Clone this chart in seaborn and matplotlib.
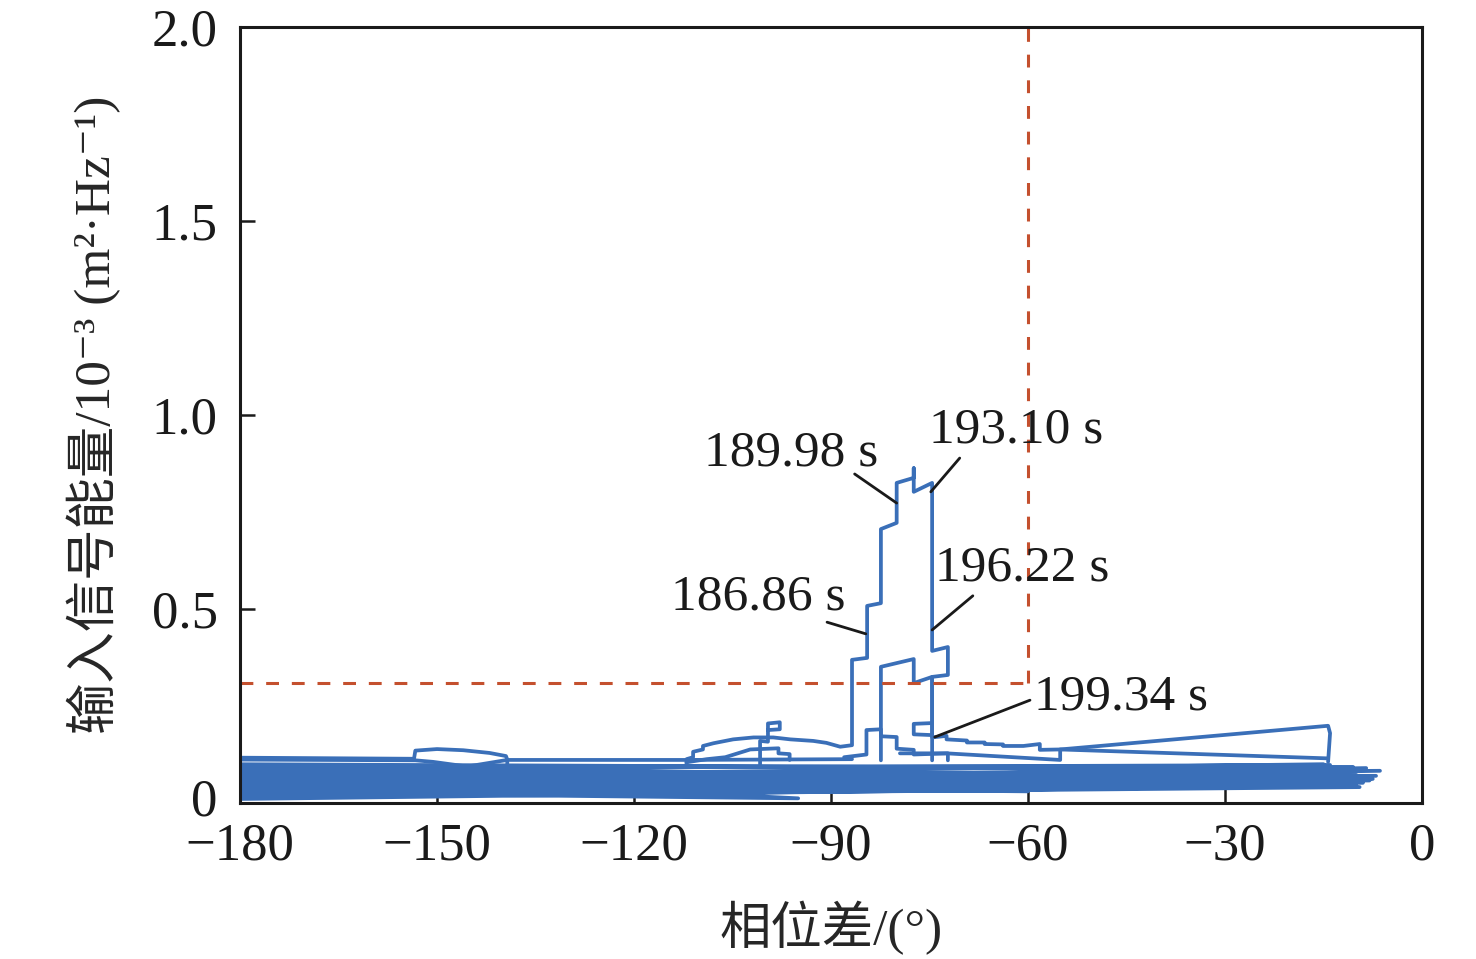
import numpy as np
import pandas as pd
import matplotlib
matplotlib.use("Agg")
import matplotlib.pyplot as plt
import matplotlib.transforms as mtransforms
import seaborn as sns

# Trajectory of (phase difference, input energy)
# dense oscillation band near the bottom
band_x = [-182, -10.5, -182, -6.4, -182, -7.5, -182, -9.5, -182, -12, -182, -8.5,
          -182, -11, -182, -7, -182, -14, -182, -9, -182, -16, -182, -10, -182, -13,
          -182, -8, -182, -11.5, -182, -9, -182, -15, -182, -10, -182, -60, -182, -95,
          -182, -18, -182]
band_y = [0.095, 0.093, 0.030, 0.083, 0.060, 0.062, 0.015, 0.041, 0.080, 0.075, 0.045, 0.090,
          0.020, 0.050, 0.070, 0.070, 0.035, 0.098, 0.088, 0.066, 0.025, 0.085, 0.055, 0.045, 0.010,
          0.078, 0.075, 0.058, 0.040, 0.088, 0.100, 0.052, 0.065, 0.100, 0.018, 0.072, 0.050, 0.030,
          0.085, 0.012, 0.028, 0.060, 0.092]

# upper lines and bump on the left
left_x = [-182, -153.5, -153.3, -150, -146, -142, -139.5, -139.3, -139.3]
left_y = [0.117, 0.114, 0.135, 0.139, 0.136, 0.129, 0.121, 0.112, 0.095]
left2_x = [-182, -153.3, -150.6, -145.4, -139.3, -112, -86.8]
left2_y = [0.112, 0.110, 0.106, 0.094, 0.111, 0.111, 0.113]

# rising bump and tall step-like excursion
peak_x = [-112.0, -112.0, -111.0, -111.0, -109.5, -109.5, -107.9, -104.9, -101.8, -98.8,
          -96.2, -92.7, -90.7, -88.6, -86.8, -86.8, -84.5, -84.5, -82.4, -82.4, -80.0, -80.0,
          -77.4, -77.4, -77.4, -74.6, -74.6, -72.2, -72.2, -74.6, -74.6, -72.4, -72.4, -69.3,
          -69.3, -66.6, -66.6, -63.8, -63.8, -60.7, -58.2, -58.2, -55.1, -14.3, -14.0, -14.3]
peak_y = [0.098, 0.113, 0.118, 0.132, 0.138, 0.147, 0.154, 0.164, 0.169, 0.169,
          0.164, 0.160, 0.155, 0.145, 0.149, 0.369, 0.374, 0.508, 0.515, 0.706, 0.722, 0.825,
          0.838, 0.863, 0.802, 0.825, 0.392, 0.402, 0.330, 0.325, 0.169, 0.173, 0.164, 0.161,
          0.156, 0.156, 0.152, 0.151, 0.147, 0.147, 0.152, 0.137, 0.138, 0.199, 0.180, 0.106]

inner_x = [-82.4, -82.4, -77.4, -77.4, -74.6, -74.6]
inner_y = [0.110, 0.351, 0.371, 0.309, 0.325, 0.110]
box_x = [-74.6, -77.4, -77.4, -74.6]
box_y = [0.175, 0.177, 0.204, 0.206]

bump2_x = [-112, -108.9, -106.1, -102.3, -98.0, -98.0, -96.3, -96.3]
bump2_y = [0.105, 0.113, 0.118, 0.138, 0.141, 0.128, 0.126, 0.111]
flag_x = [-100.8, -100.8, -99.6, -99.6, -97.8, -97.8, -99.6]
flag_y = [0.098, 0.160, 0.158, 0.205, 0.208, 0.190, 0.188]

steps_x = [-88, -84.6, -84.6, -82.4, -82.4, -80.0, -80.0, -77.4, -77.4, -72.2, -72.2]
steps_y = [0.118, 0.125, 0.188, 0.190, 0.172, 0.170, 0.140, 0.137, 0.125, 0.128, 0.110]
low_x = [-79.5, -72.4, -55.1, -55.1, -14.3]
low_y = [0.128, 0.128, 0.111, 0.138, 0.115]

# threshold lines
phase_limit = -60
energy_limit = 0.308

# annotations: label, text position, leader line start, leader line end
ann_labels = ["189.98 s", "193.10 s", "186.86 s", "196.22 s", "199.34 s"]
ann_text_x = [-96.1, -61.8, -101.1, -60.9, -45.8]
ann_text_y = [0.902, 0.961, 0.531, 0.606, 0.273]
ann_from_x = [-86.4, -70.4, -90.6, -68.4, -59.7]
ann_from_y = [0.848, 0.889, 0.466, 0.534, 0.265]
ann_to_x = [-80.0, -74.8, -84.7, -74.6, -74.2]
ann_to_y = [0.773, 0.802, 0.436, 0.446, 0.170]

x_ticks = [-180, -150, -120, -90, -60, -30, 0]
y_ticks = [0, 0.5, 1.0, 1.5, 2.0]
y_tick_labels = ["0", "0.5", "1.0", "1.5", "2.0"]

segments = [("band", band_x, band_y), ("left", left_x, left_y), ("left2", left2_x, left2_y),
            ("peak", peak_x, peak_y), ("inner", inner_x, inner_y), ("box", box_x, box_y),
            ("bump2", bump2_x, bump2_y), ("flag", flag_x, flag_y), ("steps", steps_x, steps_y),
            ("low", low_x, low_y)]
frames = []
for name, xs, ys in segments:
    frames.append(pd.DataFrame({"seg": name, "x": xs, "y": ys}))
df = pd.concat(frames, ignore_index=True)

sns.set_style("ticks")
plt.rcParams["font.family"] = ["Liberation Serif", "Noto Sans CJK SC", "DejaVu Serif"]
plt.rcParams["axes.unicode_minus"] = True

blue = "#3A6FB8"
red = "#C4502E"
ink = "#1a1a1a"

fig = plt.figure(figsize=(14.76, 9.59), dpi=100)
ax = fig.add_axes([240 / 1476, 1 - 803 / 959, 1182 / 1476, 776 / 959])

sns.lineplot(data=df, x="x", y="y", units="seg", estimator=None, sort=False,
             color=blue, lw=2.7, ax=ax, legend=False)

ax.hlines(energy_limit, -180, phase_limit, colors=red, lw=2.2, linestyles=(0, (4.2, 4.2)))
ax.vlines(phase_limit, energy_limit, 2.0, colors=red, lw=2.2, linestyles=(0, (4.2, 4.2)))

for lab, tx, ty, fx, fy, ex, ey in zip(ann_labels, ann_text_x, ann_text_y,
                                       ann_from_x, ann_from_y, ann_to_x, ann_to_y):
    ax.plot([fx, ex], [fy, ey], color=ink, lw=2.0)
    ax.text(tx, ty, lab, fontsize=37, ha="center", va="center", color=ink)

ax.set_xlim(-180, 0)
ax.set_ylim(0, 2.0)
ax.set_xticks(x_ticks)
ax.set_yticks(y_ticks)
ax.set_yticklabels(y_tick_labels)
ax.tick_params(direction="in", length=11, width=1.8, labelsize=38, colors=ink)
ax.tick_params(axis="x", pad=14)
ax.tick_params(axis="y", pad=16)
for sp in ax.spines.values():
    sp.set_linewidth(2.2)
    sp.set_color(ink)
    sp.set_visible(True)

# lift the "0" label a little so it clears "-180" as in the original
zero_lab = ax.get_yticklabels()[0]
zero_lab.set_transform(zero_lab.get_transform() +
                       mtransforms.ScaledTranslation(0, 6 / 100, fig.dpi_scale_trans))

ax.set_xlabel("相位差/(°)", fontsize=37, labelpad=22)
ax.set_ylabel("输入信号能量/10⁻³ (m²·Hz⁻¹)", fontsize=37, labelpad=22)

fig.savefig("out.png", dpi=100)
